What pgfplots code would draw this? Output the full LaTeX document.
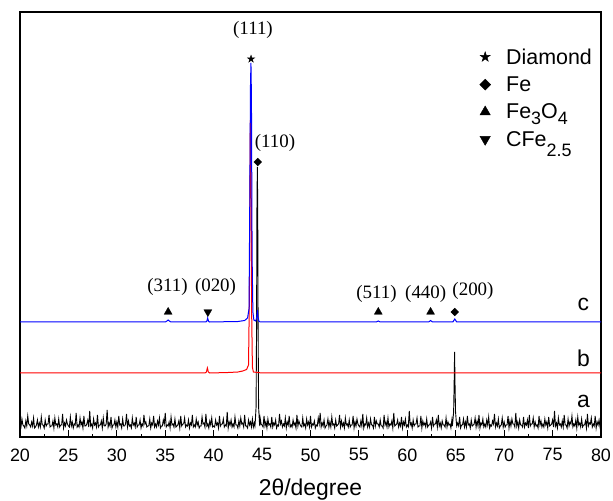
\documentclass[border=0pt]{standalone}
\usepackage{fontspec}
\setmainfont{Liberation Sans}
\newfontfamily\timesf{Liberation Serif}
\usepackage{pgfplots}
\pgfplotsset{compat=1.18}
\newcommand\sub[2]{\smash{\raisebox{-#1}{\fontsize{18}{20}\selectfont #2}}}
\pgfdeclareplotmark{fstar}{%
  \pgfpathmoveto{\pgfqpoint{0pt}{\pgfplotmarksize}}%
  \pgfpathlineto{\pgfqpoint{0.2245\pgfplotmarksize}{0.309\pgfplotmarksize}}%
  \pgfpathlineto{\pgfqpoint{0.951\pgfplotmarksize}{0.309\pgfplotmarksize}}%
  \pgfpathlineto{\pgfqpoint{0.363\pgfplotmarksize}{-0.118\pgfplotmarksize}}%
  \pgfpathlineto{\pgfqpoint{0.588\pgfplotmarksize}{-0.809\pgfplotmarksize}}%
  \pgfpathlineto{\pgfqpoint{0pt}{-0.382\pgfplotmarksize}}%
  \pgfpathlineto{\pgfqpoint{-0.588\pgfplotmarksize}{-0.809\pgfplotmarksize}}%
  \pgfpathlineto{\pgfqpoint{-0.363\pgfplotmarksize}{-0.118\pgfplotmarksize}}%
  \pgfpathlineto{\pgfqpoint{-0.951\pgfplotmarksize}{0.309\pgfplotmarksize}}%
  \pgfpathlineto{\pgfqpoint{-0.2245\pgfplotmarksize}{0.309\pgfplotmarksize}}%
  \pgfpathclose
  \pgfusepathqfillstroke}
\pgfplotsset{myleg/.style={legend image code/.code={%
  \path[draw=none, fill=none] (-8bp,0bp) -- (19bp,0bp);
  \draw[##1] plot coordinates {(0bp,0bp)};}}}
\begin{document}
\begin{tikzpicture}
\useasboundingbox (-20bp,-64bp) rectangle (593bp,437bp);
\begin{axis}[
  at={(0,0)}, anchor=south west,
  scale only axis, width=581bp, height=425bp,
  xmin=20, xmax=80, ymin=0, ymax=425,
  xtick={20,25,...,80}, minor x tick num=1, xtick pos=left, ytick=\empty,
  tick align=inside, major tick length=7bp, minor tick length=3.5bp,
  axis line style={line width=1.2bp},
  every tick/.style={black, line width=1bp},
  ticklabel style={font=\fontsize{18}{21}\selectfont},
  xticklabel style={yshift=-8bp},
  /pgf/number format/assume math mode=true,
  xlabel={2θ/degree},
  xlabel style={font=\fontsize{23}{26}\selectfont, at={(axis description cs:0.5,-0.1247)}, anchor=center},
  legend style={draw=none, fill=none, font=\fontsize{21.5}{25}\selectfont,
    at={(axis description cs:0.7814,0.924)}, anchor=north west,
    row sep=7bp},
  legend cell align=left,
]
% a (black)
\addplot[black, line width=0.9bp, forget plot] coordinates {
(20.0,13)(20.1,10)(20.2,18)(20.3,12)(20.4,11)(20.5,9)(20.6,16)(20.7,11)(20.8,21)(20.9,13)(21.0,12)(21.1,10)(21.2,15)(21.3,11)(21.4,19)(21.5,9)(21.6,10)(21.7,12)(21.8,17)(21.9,10)
(22.0,14)(22.1,10)(22.2,20)(22.3,12)(22.4,12)(22.5,9)(22.6,17)(22.7,11)(22.8,13)(22.9,13)(23.0,22)(23.1,10)(23.2,11)(23.3,11)(23.4,16)(23.5,9)(23.6,19)(23.7,12)(23.8,13)(23.9,10)
(24.0,18)(24.1,10)(24.2,12)(24.3,12)(24.4,23)(24.5,9)(24.6,14)(24.7,11)(24.8,17)(24.9,13)(25.0,11)(25.1,10)(25.2,20)(25.3,11)(25.4,15)(25.5,9)(25.6,13)(25.7,12)(25.8,24)(25.9,10)
(26.0,12)(26.1,10)(26.2,19)(26.3,12)(26.4,15)(26.5,9)(26.6,21)(26.7,11)(26.8,11)(26.9,13)(27.0,17)(27.1,10)(27.2,26)(27.3,11)(27.4,13)(27.5,9)(27.6,18)(27.7,12)(27.8,14)(27.9,10)
(28.0,22)(28.1,10)(28.2,12)(28.3,12)(28.4,16)(28.5,9)(28.6,19)(28.7,11)(28.8,11)(28.9,13)(29.0,27)(29.1,10)(29.2,14)(29.3,11)(29.4,20)(29.5,9)(29.6,12)(29.7,12)(29.8,17)(29.9,10)
(30.0,15)(30.1,10)(30.2,21)(30.3,12)(30.4,13)(30.5,9)(30.6,18)(30.7,11)(30.8,11)(30.9,13)(31.0,23)(31.1,10)(31.2,16)(31.3,11)(31.4,12)(31.5,9)(31.6,19)(31.7,12)(31.8,14)(31.9,10)
(32.0,20)(32.1,10)(32.2,12)(32.3,12)(32.4,17)(32.5,9)(32.6,13)(32.7,11)(32.8,22)(32.9,13)(33.0,15)(33.1,10)(33.2,11)(33.3,11)(33.4,18)(33.5,9)(33.6,14)(33.7,12)(33.8,21)(33.9,10)
(34.0,13)(34.1,10)(34.2,16)(34.3,12)(34.4,19)(34.5,9)(34.6,11)(34.7,11)(34.8,17)(34.9,13)(35.0,24)(35.1,10)(35.2,12)(35.3,11)(35.4,15)(35.5,9)(35.6,20)(35.7,12)(35.8,13)(35.9,10)
(36.0,18)(36.1,10)(36.2,11)(36.3,12)(36.4,16)(36.5,9)(36.6,21)(36.7,11)(36.8,13)(36.9,13)(37.0,19)(37.1,10)(37.2,12)(37.3,11)(37.4,17)(37.5,9)(37.6,14)(37.7,12)(37.8,22)(37.9,10)
(38.0,12)(38.1,10)(38.2,18)(38.3,12)(38.4,15)(38.5,9)(38.6,11)(38.7,11)(38.8,20)(38.9,13)(39.0,14)(39.1,10)(39.2,23)(39.3,11)(39.4,13)(39.5,9)(39.6,16)(39.7,12)(39.8,19)(39.9,10)
(40.0,11)(40.1,10)(40.2,17)(40.3,12)(40.4,14)(40.5,9)(40.6,21)(40.7,11)(40.8,13)(40.9,13)(41.0,18)(41.1,10)(41.2,12)(41.3,11)(41.4,25)(41.5,9)(41.6,15)(41.7,12)(41.8,17)(41.9,10)
(42.0,13)(42.1,10)(42.2,20)(42.3,12)(42.4,12)(42.5,9)(42.6,16)(42.7,11)(42.8,19)(42.9,13)(43.0,14)(43.1,10)(43.2,22)(43.3,11)(43.4,11)(43.5,9)(43.6,17)(43.7,12)(43.8,15)(43.9,10)
(44.0,18)(44.1,10)(44.2,14)(44.26,11)(44.3,16)(44.38,30)(44.43,110)(44.47,230)(44.51,270)(44.55,230)(44.59,110)(44.64,30)(44.72,16)(44.76,11)(44.8,19)(44.9,13)(45.0,12)(45.1,10)(45.2,21)(45.3,11)(45.4,15)(45.5,9)(45.6,18)(45.7,12)(45.8,13)(45.9,10)
(46.0,20)(46.1,10)(46.2,14)(46.3,12)(46.4,17)(46.5,9)(46.6,12)(46.7,11)(46.8,23)(46.9,13)(47.0,16)(47.1,10)(47.2,13)(47.3,11)(47.4,19)(47.5,9)(47.6,15)(47.7,12)(47.8,21)(47.9,10)
(48.0,12)(48.1,10)(48.2,17)(48.3,12)(48.4,14)(48.5,9)(48.6,22)(48.7,11)(48.8,16)(48.9,13)(49.0,11)(49.1,10)(49.2,19)(49.3,11)(49.4,13)(49.5,9)(49.6,18)(49.7,12)(49.8,15)(49.9,10)
(50.0,21)(50.1,10)(50.2,13)(50.3,12)(50.4,16)(50.5,9)(50.6,12)(50.7,11)(50.8,19)(50.9,13)(51.0,24)(51.1,10)(51.2,14)(51.3,11)(51.4,17)(51.5,9)(51.6,11)(51.7,12)(51.8,18)(51.9,10)
(52.0,15)(52.1,10)(52.2,20)(52.3,12)(52.4,13)(52.5,9)(52.6,17)(52.7,11)(52.8,12)(52.9,13)(53.0,22)(53.1,10)(53.2,16)(53.3,11)(53.4,14)(53.5,9)(53.6,19)(53.7,12)(53.8,13)(53.9,10)
(54.0,17)(54.1,10)(54.2,12)(54.3,12)(54.4,21)(54.5,9)(54.6,15)(54.7,11)(54.8,18)(54.9,13)(55.0,11)(55.1,10)(55.2,16)(55.3,11)(55.4,23)(55.5,9)(55.6,13)(55.7,12)(55.8,19)(55.9,10)
(56.0,14)(56.1,10)(56.2,18)(56.3,12)(56.4,12)(56.5,9)(56.6,20)(56.7,11)(56.8,16)(56.9,13)(57.0,13)(57.1,10)(57.2,17)(57.3,11)(57.4,11)(57.5,9)(57.6,22)(57.7,12)(57.8,15)(57.9,10)
(58.0,19)(58.1,10)(58.2,13)(58.3,12)(58.4,16)(58.5,9)(58.6,24)(58.7,11)(58.8,12)(58.9,13)(59.0,17)(59.1,10)(59.2,14)(59.3,11)(59.4,20)(59.5,9)(59.6,15)(59.7,12)(59.8,18)(59.9,10)
(60.0,12)(60.1,10)(60.2,26)(60.3,12)(60.4,14)(60.5,9)(60.6,17)(60.7,11)(60.8,13)(60.9,13)(61.0,19)(61.1,10)(61.2,11)(61.3,11)(61.4,21)(61.5,9)(61.6,16)(61.7,12)(61.8,14)(61.9,10)
(62.0,18)(62.1,10)(62.2,12)(62.3,12)(62.4,15)(62.5,9)(62.6,20)(62.7,11)(62.8,13)(62.9,13)(63.0,17)(63.1,10)(63.2,22)(63.3,11)(63.4,14)(63.5,9)(63.6,16)(63.7,12)(63.8,12)(63.9,10)
(64.0,19)(64.1,10)(64.2,15)(64.3,12)(64.4,13)(64.5,9)(64.6,17)(64.65,11)(64.7,16)(64.78,25)(64.83,50)(64.88,85)(64.93,50)(64.98,25)(65.05,16)(65.1,11)(65.2,14)(65.3,11)(65.4,20)(65.5,9)(65.6,12)(65.7,12)(65.8,18)(65.9,10)
(66.0,15)(66.1,10)(66.2,21)(66.3,12)(66.4,13)(66.5,9)(66.6,17)(66.7,11)(66.8,12)(66.9,13)(67.0,19)(67.1,10)(67.2,16)(67.3,11)(67.4,22)(67.5,9)(67.6,14)(67.7,12)(67.8,18)(67.9,10)
(68.0,13)(68.1,10)(68.2,17)(68.3,12)(68.4,20)(68.5,9)(68.6,12)(68.7,11)(68.8,16)(68.9,13)(69.0,23)(69.1,10)(69.2,14)(69.3,11)(69.4,18)(69.5,9)(69.6,11)(69.7,12)(69.8,19)(69.9,10)
(70.0,15)(70.1,10)(70.2,12)(70.3,12)(70.4,21)(70.5,9)(70.6,16)(70.7,11)(70.8,18)(70.9,13)(71.0,13)(71.1,10)(71.2,24)(71.3,11)(71.4,15)(71.5,9)(71.6,17)(71.7,12)(71.8,12)(71.9,10)
(72.0,20)(72.1,10)(72.2,14)(72.3,12)(72.4,17)(72.5,9)(72.6,22)(72.7,11)(72.8,13)(72.9,13)(73.0,19)(73.1,10)(73.2,15)(73.3,11)(73.4,12)(73.5,9)(73.6,21)(73.7,12)(73.8,16)(73.9,10)
(74.0,13)(74.1,10)(74.2,18)(74.3,12)(74.4,15)(74.5,9)(74.6,20)(74.7,11)(74.8,12)(74.9,13)(75.0,17)(75.1,10)(75.2,26)(75.3,11)(75.4,14)(75.5,9)(75.6,19)(75.7,12)(75.8,13)(75.9,10)
(76.0,16)(76.1,10)(76.2,22)(76.3,12)(76.4,12)(76.5,9)(76.6,18)(76.7,11)(76.8,15)(76.9,13)(77.0,21)(77.1,10)(77.2,13)(77.3,11)(77.4,17)(77.5,9)(77.6,20)(77.7,12)(77.8,14)(77.9,10)
(78.0,18)(78.1,10)(78.2,12)(78.3,12)(78.4,16)(78.5,9)(78.6,23)(78.7,11)(78.8,14)(78.9,13)(79.0,19)(79.1,10)(79.2,13)(79.3,11)(79.4,21)(79.5,9)(79.6,15)(79.7,12)(79.8,17)(79.9,10)
(80.0,14)};
% b (red)
\addplot[red, line width=1bp, forget plot] coordinates {
(20,64)(39.1,64)(39.25,65)(39.35,69)(39.45,65)(39.6,64)(41.5,64.5)(42.5,65)(43.0,66)(43.4,67.5)
(43.6,72)(43.7,150)(43.77,300)(43.81,320)(43.86,290)(43.93,120)(44.0,70)(44.1,65)(45,64)(80,64)};
% c (blue)
\addplot[blue, line width=1bp, forget plot] coordinates {
(20,115)(35.0,115)(35.15,115.8)(35.3,117)(35.45,115.8)(35.6,115)(39.2,115)(39.3,116)(39.38,119)
(39.46,116)(39.55,115)(42.5,115.5)(43.2,116.5)(43.5,119)(43.65,128)(43.72,220)(43.8,350)(43.85,374)
(43.9,340)(43.97,180)(44.05,125)(44.15,117)(44.35,116)(44.45,120)(44.52,127)(44.58,120)(44.66,116)
(44.8,115)(56.8,115)(57.0,116)(57.2,115)(62.2,115)(62.4,116.5)(62.6,115)(64.7,115)(64.8,116.5)
(64.9,118)(65.0,116.5)(65.1,115)(80,115)};
% phase markers
\addplot[only marks, black, mark=fstar, mark size=3.8, mark options={solid, fill=black}, forget plot]
  coordinates {(43.86,378)};
\addplot[only marks, black, mark=square*, mark size=2.7, mark options={rotate=45, fill=black}, forget plot]
  coordinates {(44.55,275)(64.9,125)};
\addplot[only marks, black, mark=triangle*, mark size=4.6, mark options={fill=black}, forget plot]
  coordinates {(35.3,125)(57.0,125)(62.4,125)};
\addplot[only marks, black, mark=triangle*, mark size=4.6, mark options={rotate=180, fill=black}, forget plot]
  coordinates {(39.4,125)};
% legend
\addlegendimage{only marks, black, mark=fstar, mark size=5.3, mark options={fill=black}, myleg}
\addlegendentry{Diamond}
\addlegendimage{only marks, black, mark=square*, mark size=3.9, mark options={rotate=45, fill=black}, myleg}
\addlegendentry{Fe}
\addlegendimage{only marks, black, mark=triangle*, mark size=6, mark options={fill=black}, myleg}
\addlegendentry{Fe\sub{6bp}{3}O\sub{6bp}{4}}
\addlegendimage{only marks, black, mark=triangle*, mark size=6, mark options={rotate=180, fill=black}, myleg}
\addlegendentry{CFe\sub{10bp}{2.5}}
% hkl labels
\begin{scope}[every node/.style={font=\timesf\fontsize{19}{22}\selectfont, inner sep=0pt}]
\node at (axis cs:44.06,407) {(111)};
\node at (axis cs:46.33,294) {(110)};
\node at (axis cs:35.23,150) {(311)};
\node at (axis cs:40.19,150) {(020)};
\node at (axis cs:56.82,143) {(511)};
\node at (axis cs:61.9,143) {(440)};
\node at (axis cs:66.78,146) {(200)};
\end{scope}
\begin{scope}[every node/.style={font=\fontsize{23}{26}\selectfont, inner sep=0pt}]
\node at (axis cs:78.19,132.3) {c};
\node at (axis cs:78.19,79) {b};
\node at (axis cs:78.19,35.3) {a};
\end{scope}
\end{axis}
\end{tikzpicture}
\end{document}
